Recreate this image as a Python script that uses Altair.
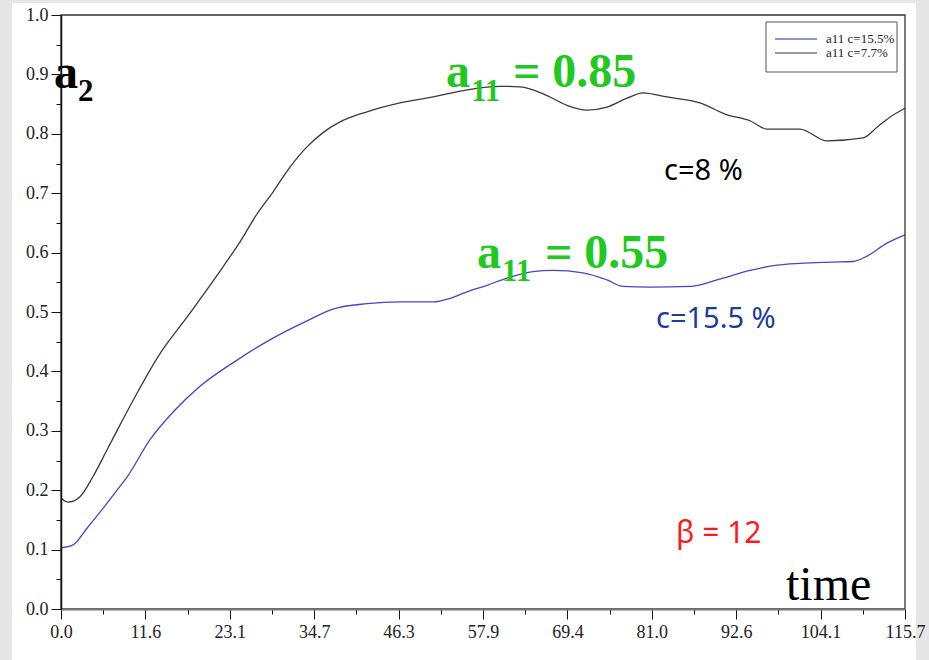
import json
import altair as alt
import pandas as pd

# ---------------- data ----------------
time_c77 = [0.0, 0.96, 2.60, 4.39, 6.31, 8.09, 10.14, 13.16, 17.68, 22.21, 24.54, 26.87,
            29.06, 31.39, 33.72, 35.92, 38.25, 41.95, 46.47, 51.00, 55.66, 60.18, 62.92,
            64.70, 67.03, 69.36, 72.11, 74.85, 77.59, 79.79, 83.08, 87.60, 91.30, 94.45,
            96.78, 101.30, 105.01, 109.94, 111.86, 113.64, 115.70]
a2_c77 = [0.187, 0.180, 0.189, 0.223, 0.268, 0.310, 0.357, 0.422, 0.498, 0.576, 0.618, 0.665,
          0.702, 0.744, 0.778, 0.802, 0.820, 0.837, 0.852, 0.862, 0.874, 0.880, 0.879,
          0.874, 0.862, 0.848, 0.840, 0.845, 0.860, 0.869, 0.862, 0.852, 0.832, 0.822,
          0.808, 0.808, 0.788, 0.793, 0.811, 0.828, 0.843]

time_c155 = [0.0, 1.65, 3.56, 5.35, 7.68, 9.05, 12.20, 15.63, 19.06, 24.13, 29.06, 33.72,
             37.29, 41.95, 46.47, 51.00, 53.33, 55.66, 58.40, 61.14, 64.70, 67.45, 71.56,
             74.85, 77.04, 80.74, 86.22, 89.93, 94.45, 98.15, 101.30, 105.83, 108.57,
             110.49, 113.23, 115.70]
a2_c155 = [0.103, 0.108, 0.136, 0.163, 0.200, 0.222, 0.285, 0.335, 0.375, 0.419, 0.456, 0.485,
           0.505, 0.514, 0.517, 0.517, 0.523, 0.534, 0.545, 0.557, 0.568, 0.570, 0.566,
           0.554, 0.543, 0.542, 0.543, 0.554, 0.570, 0.579, 0.582, 0.584, 0.585,
           0.594, 0.616, 0.630]

series_names = ["a11 c=15.5%", "a11 c=7.7%"]
series_colors = ["#4545c8", "#3a3a3a"]
legend_line_colors = ["#22229a", "#333333"]

x_tick_labels = ["0.0", "11.6", "23.1", "34.7", "46.3", "57.9", "69.4", "81.0",
                 "92.6", "104.1", "115.7"]
y_tick_labels = ["0.0", "0.1", "0.2", "0.3", "0.4", "0.5", "0.6", "0.7", "0.8", "0.9", "1.0"]

green_top = ["a", "11", "= 0.85"]
green_bottom = ["a", "11", "= 0.55"]
ylabel_parts = ["a", "2"]
label_c8 = "c=8 %"
label_c155 = "c=15.5 %"
label_beta = "β = 12"
label_time = "time"

# ---------------- build table ----------------
df = pd.concat([
    pd.DataFrame({"t": time_c155, "a2": a2_c155, "series": series_names[0]}),
    pd.DataFrame({"t": time_c77, "a2": a2_c77, "series": series_names[1]}),
])

X_MAX = 115.7
x_step = X_MAX / 20.0
x_values = [round(i * x_step, 4) for i in range(21)]
y_values = [round(i * 0.05, 4) for i in range(21)]

x_label_expr = ("round(datum.value/%s) %% 2 == 0 ? %s[round(datum.value/%s)] : ''"
                % (x_step, json.dumps(x_tick_labels), 2 * x_step))
y_label_expr = ("round(datum.value*20) %% 2 == 0 ? %s[round(datum.value*10)] : ''"
                % json.dumps(y_tick_labels))

axis_common = dict(
    title=None, grid=False, zindex=1,
    labelFont="Liberation Serif", labelFontSize=18, labelColor="#222",
    tickColor="#111", tickWidth=1,
)

x_axis = alt.Axis(
    values=x_values, labelExpr=x_label_expr,
    tickSize={"condition": {"test": "round(datum.value/%s) %% 2 == 0" % x_step, "value": 10}, "value": 5},
    domainColor="#777", domainWidth=2, labelPadding=4, labelFlush=False,
    **axis_common,
)
y_axis = alt.Axis(
    values=y_values, labelExpr=y_label_expr,
    tickSize={"condition": {"test": "round(datum.value*20) % 2 == 0", "value": 10}, "value": 5},
    domainColor="#111", domainWidth=1.5, labelPadding=3, labelFlush=False,
    **axis_common,
)

W, H = 844, 594

lines = alt.Chart(df).mark_line(strokeWidth=1.3, interpolate="monotone").encode(
    x=alt.X("t:Q", scale=alt.Scale(domain=[0, X_MAX], nice=False, zero=False), axis=x_axis),
    y=alt.Y("a2:Q", scale=alt.Scale(domain=[0, 1], nice=False), axis=y_axis),
    color=alt.Color("series:N", scale=alt.Scale(domain=series_names, range=series_colors), legend=None),
    detail="series:N",
)

one = alt.Data(values=[{}])

background = alt.Chart(one).mark_rect(color="white").encode(
    x=alt.value(-49), x2=alt.value(855), y=alt.value(-12), y2=alt.value(645))

frame = alt.Chart(one).mark_rect(fillOpacity=0, stroke="#333", strokeWidth=1.3).encode(
    x=alt.value(0), x2=alt.value(W), y=alt.value(0), y2=alt.value(H))


def txt(s, x, y, size, color, font="Liberation Serif", weight="normal"):
    return alt.Chart(one).mark_text(
        text=s, font=font, fontSize=size, fontWeight=weight, color=color,
        align="left", baseline="alphabetic",
    ).encode(x=alt.value(x), y=alt.value(y))


GREEN = "#22c822"
annotations = [
    txt(ylabel_parts[0], -7, 73, 48, "#000", weight="bold"),
    txt(ylabel_parts[1], 17, 86, 31, "#000", weight="bold"),
    txt(green_top[0], 385, 72, 48, GREEN, weight="bold"),
    txt(green_top[1], 410, 86, 31, GREEN, weight="bold"),
    txt(green_top[2], 452, 72, 48, GREEN, weight="bold"),
    txt(green_bottom[0], 416, 253, 48, GREEN, weight="bold"),
    txt(green_bottom[1], 441, 266, 31, GREEN, weight="bold"),
    txt(green_bottom[2], 484, 253, 48, GREEN, weight="bold"),
    txt(label_c8, 603, 165, 29, "#000", font="Noto Sans"),
    txt(label_c155, 595, 313, 29, "#1a3c9c", font="Noto Sans"),
    txt(label_beta, 615, 528, 30, "#ff1a1a", font="Noto Sans"),
    txt(label_time, 725, 585, 48, "#000"),
]

legend_box = alt.Chart(one).mark_rect(fill="white", stroke="#555", strokeWidth=1).encode(
    x=alt.value(705), x2=alt.value(836), y=alt.value(7), y2=alt.value(57))
legend_items = []
for i, (name, col) in enumerate(zip(series_names, legend_line_colors)):
    yy = 24 + 14 * i
    legend_items.append(alt.Chart(one).mark_rule(color=col, strokeWidth=1).encode(
        x=alt.value(714), x2=alt.value(756), y=alt.value(yy)))
    legend_items.append(txt(name, 765, yy + 4, 13, "#222"))

chart = alt.layer(
    background, lines, frame, *annotations, legend_box, *legend_items
).properties(
    width=W, height=H,
    autosize=alt.AutoSizeParams(type="none"),
    padding={"left": 61, "top": 15, "right": 24, "bottom": 51},
    background="#e6e6e6",
).configure_view(stroke=None)

chart.save("out.html", embed_options={"renderer": "svg", "actions": False})
